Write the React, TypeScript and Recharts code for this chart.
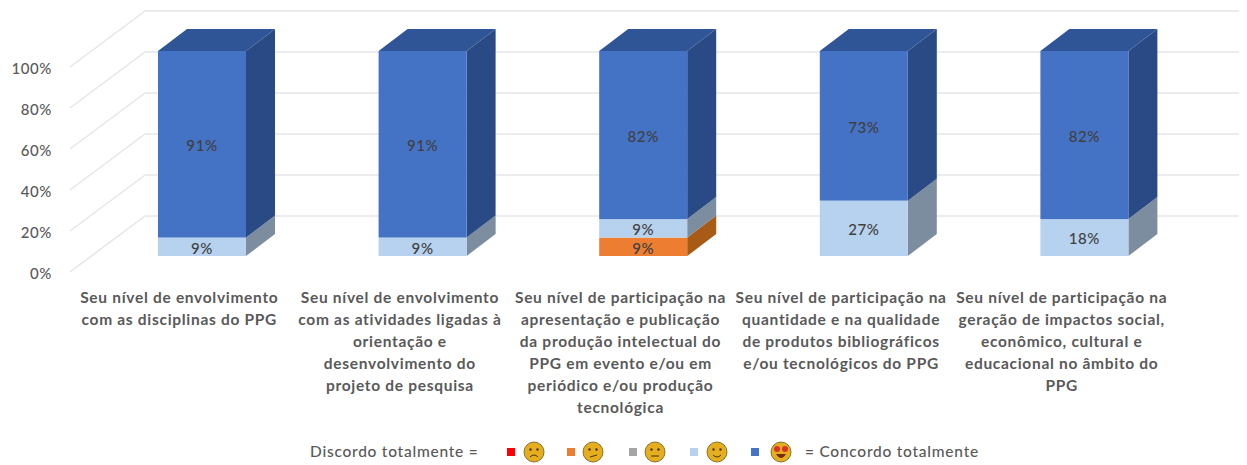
import { Bar, BarChart, CartesianGrid, LabelList, Legend, XAxis, YAxis } from 'recharts'

const categories = [
  ['Seu nível de envolvimento', 'com as disciplinas do PPG'],
  ['Seu nível de envolvimento', 'com as atividades ligadas à', 'orientação e', 'desenvolvimento do', 'projeto de pesquisa'],
  ['Seu nível de participação na', 'apresentação e publicação', 'da produção intelectual do', 'PPG em evento e/ou em', 'periódico e/ou produção', 'tecnológica'],
  ['Seu nível de participação na', 'quantidade e na qualidade', 'de produtos bibliográficos', 'e/ou tecnológicos do PPG'],
  ['Seu nível de participação na', 'geração de impactos social,', 'econômico, cultural e', 'educacional no âmbito do', 'PPG'],
]
const nivel1 = [0, 0, 0, 0, 0]
const nivel2 = [0, 0, 9, 0, 0]
const nivel3 = [0, 0, 0, 0, 0]
const nivel4 = [9, 9, 9, 27, 18]
const nivel5 = [91, 91, 82, 73, 82]
const yTicks = [0, 20, 40, 60, 80, 100]

const data = categories.map((lines, i) => ({
  name: lines.join(' '),
  nivel1: nivel1[i],
  nivel2: nivel2[i],
  nivel3: nivel3[i],
  nivel4: nivel4[i],
  nivel5: nivel5[i],
}))

const FONT = 'Lato, sans-serif'
const TEXT = '#595959'
const GRID = '#e6e6e6'
const DEPTH_X = 29
const DEPTH_Y = 22

const sideColors: Record<string, string> = {
  '#ff0000': '#b00000',
  '#ed7d31': '#a85a17',
  '#a5a5a5': '#747474',
  '#b7d2ee': '#7d8da0',
  '#4472c4': '#2a4a85',
}

// bar front plus the extruded side and, for the top segment, the lid
function box3d(props: any, withTop: boolean) {
  const { x, y, width, height, fill } = props
  if (!height || height <= 0) return <g />
  const r = x + width
  const b = y + height
  return (
    <g>
      <polygon
        fill={sideColors[fill]}
        points={`${r},${y} ${r + DEPTH_X},${y - DEPTH_Y} ${r + DEPTH_X},${b - DEPTH_Y} ${r},${b}`}
      />
      {withTop && (
        <polygon
          fill="#2f5597"
          points={`${x},${y} ${x + DEPTH_X},${y - DEPTH_Y} ${r + DEPTH_X},${y - DEPTH_Y} ${r},${y}`}
        />
      )}
      <rect fill={fill} height={height} width={width} x={x} y={y} />
    </g>
  )
}

const flatBox = (props: any) => box3d(props, false)
const topBox = (props: any) => box3d(props, true)

const pct = (v: any) => (v ? `${v}%` : '')

// the wall sits behind the bars: a diagonal on the side wall and a line on the back wall
function wallLine(props: any) {
  const { x2, y1, index } = props
  return (
    <g key={`wall-${index}`}>
      <line stroke={GRID} strokeWidth={1.5} x1={70} x2={145} y1={y1 + 16} y2={y1 - 40} />
      <line stroke={GRID} strokeWidth={1.5} x1={145} x2={x2 + 45} y1={y1 - 40} y2={y1 - 40} />
    </g>
  )
}

function YTick(props: any) {
  const { y, payload } = props
  return (
    <text fill={TEXT} fontFamily={FONT} fontSize={15} fontWeight={500} letterSpacing={0.6} textAnchor="end" x={52} y={y + 22.5}>
      {payload.value}%
    </text>
  )
}

function XTick(props: any) {
  const { x, payload, index } = props
  return (
    <text fill={TEXT} fontFamily={FONT} fontSize={15.5} fontWeight={700} letterSpacing={0.7} textAnchor="middle">
      {categories[index ?? payload.index].map((line, i) => (
        <tspan key={line} x={x - 23} y={303 + i * 22}>
          {line}
        </tspan>
      ))}
    </text>
  )
}

function Face({ cx, mood }: { cx: number; mood: number }) {
  const cy = 14
  const ink = '#4a3208'
  return (
    <g>
      <circle cx={cx} cy={cy} fill="#e5ae1e" r={10} stroke="#6b5a1e" strokeWidth={0.8} />
      {mood === 4 ? (
        <>
          <circle cx={cx - 4} cy={cy - 3} fill="#d8322a" r={3} />
          <circle cx={cx + 4} cy={cy - 3} fill="#d8322a" r={3} />
          <path d={`M${cx - 5},${cy + 2} Q${cx},${cy + 10} ${cx + 5},${cy + 2} Z`} fill="#7a2a12" />
        </>
      ) : (
        <>
          <circle cx={cx - 3.5} cy={cy - 2.5} fill={ink} r={1.2} />
          <circle cx={cx + 3.5} cy={cy - 2.5} fill={ink} r={1.2} />
          {mood === 0 && <path d={`M${cx - 4},${cy + 5} Q${cx},${cy + 1} ${cx + 4},${cy + 5}`} fill="none" stroke={ink} />}
          {mood === 1 && <path d={`M${cx - 3},${cy + 5} L${cx + 4},${cy + 3}`} fill="none" stroke={ink} />}
          {mood === 2 && <path d={`M${cx - 4},${cy + 4} L${cx + 4},${cy + 4}`} fill="none" stroke={ink} />}
          {mood === 3 && <path d={`M${cx - 4},${cy + 3} Q${cx},${cy + 7} ${cx + 4},${cy + 3}`} fill="none" stroke={ink} />}
        </>
      )}
    </g>
  )
}

const squareX = [507, 567, 629, 690, 751]
const faceX = [534, 593, 655, 717, 781]

function LegendRow({ payload }: any) {
  const textStyle = { fill: TEXT, fontFamily: FONT, fontSize: 15.5, fontWeight: 500, letterSpacing: 0.75 }
  return (
    <svg height={28} style={{ display: 'block' }} width={1247}>
      <text {...textStyle} x={310} y={19}>
        Discordo totalmente =
      </text>
      {(payload ?? []).map((entry: any, i: number) => (
        <g key={entry.dataKey}>
          <rect fill={entry.color} height={8} width={8} x={squareX[i]} y={10} />
          <Face cx={faceX[i]} mood={i} />
        </g>
      ))}
      <text {...textStyle} x={805} y={19}>
        = Concordo totalmente
      </text>
    </svg>
  )
}

const labelStyle = { fill: '#404040', fontFamily: FONT, fontSize: 15, fontWeight: 500, letterSpacing: 0.6 }

export default function App() {
  return (
    <div style={{ margin: '-8px 0 0 -8px', width: 1247, height: 465, background: '#fff', overflow: 'hidden' }}>
      <BarChart
        barSize={88}
        data={data}
        height={465}
        margin={{ top: 51, right: 52, bottom: 151, left: 32 }}
        width={1247}
      >
        <CartesianGrid horizontal={wallLine} vertical={false} />
        <XAxis axisLine={false} dataKey="name" height={30} interval={0} tick={<XTick />} tickLine={false} />
        <YAxis axisLine={false} domain={[0, 100]} interval={0} tick={<YTick />} tickLine={false} ticks={yTicks} width={60} />
        <Legend
          content={<LegendRow />}
          wrapperStyle={{ position: 'absolute', left: 0, top: 438, width: 1247, height: 28 }}
        />
        <Bar dataKey="nivel1" fill="#ff0000" isAnimationActive={false} shape={flatBox} stackId="a" />
        <Bar dataKey="nivel2" fill="#ed7d31" isAnimationActive={false} shape={flatBox} stackId="a">
          <LabelList dataKey="nivel2" dy={1.5} formatter={pct} position="center" style={labelStyle} />
        </Bar>
        <Bar dataKey="nivel3" fill="#a5a5a5" isAnimationActive={false} shape={flatBox} stackId="a" />
        <Bar dataKey="nivel4" fill="#b7d2ee" isAnimationActive={false} shape={flatBox} stackId="a">
          <LabelList dataKey="nivel4" dy={1.5} formatter={pct} position="center" style={labelStyle} />
        </Bar>
        <Bar dataKey="nivel5" fill="#4472c4" isAnimationActive={false} shape={topBox} stackId="a">
          <LabelList dataKey="nivel5" dy={1.5} formatter={pct} position="center" style={labelStyle} />
        </Bar>
      </BarChart>
    </div>
  )
}
